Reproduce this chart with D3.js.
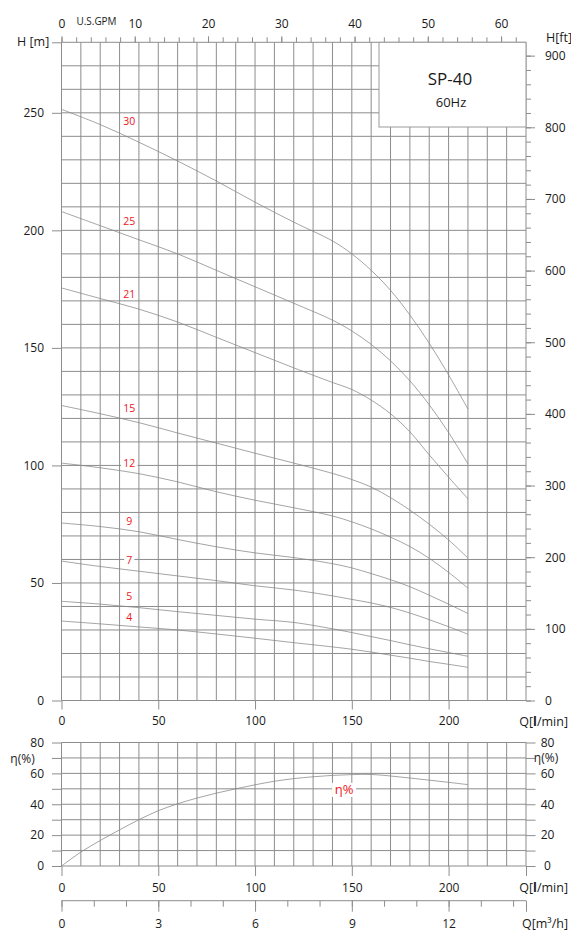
<!DOCTYPE html>
<html><head><meta charset="utf-8">
<script src="https://cdn.jsdelivr.net/npm/d3@7"></script>
<style>
body{margin:0;background:#fff}
svg{display:block}
text{font-family:"Open Sans",sans-serif;fill:#1a1a1a}
</style>
</head><body>
<svg id="c" width="571" height="931"></svg>
<script>
// ---------- data ----------
const flow = [0,20,40,60,80,100,120,140,150,160,170,180,190,200,210];           // l/min
const stages = ["30","25","21","15","12","9","7","5","4"];
const head30 = [251.5,245,237.5,229.5,221,212,203.5,195.5,190,183,174.5,164,152,138.5,124];
const head25 = [208,202,196,190,183,176,169,161.8,157.2,151.5,144.5,136,125.8,114,100.7];
const head21 = [175.5,171,166.5,161,154.5,148,141.5,135.3,132.3,127.8,122,114.3,104.5,95,85.8];
const head15 = [125.5,122,118.2,113.8,109.5,105.2,101,96.6,94,90.8,86.3,81,75,68.3,60.6];
const head12 = [101,99,96.5,93,88.8,85.2,82,78.5,76,73,69.5,65.5,60.5,54.5,47.8];
const head9  = [75.5,74,71.8,68.5,65.4,62.8,60.8,58.2,56.4,54,51.4,48.4,44.8,41,37];
const head7  = [59.3,57,55,53,51,48.8,47,44.5,43,41.5,39.6,37.2,34.4,31.4,28.2];
const head5  = [42.2,41,39.5,37.8,36.2,34.6,33.2,30.5,28.9,27.2,25.5,23.7,22,20.4,18.8];
const head4  = [33.8,32.6,31.3,30,28.3,26.5,24.6,22.8,21.8,20.6,19.3,18,16.6,15.4,14.1];
const labelHead = [246.5,203.8,172.9,124.5,101,76.2,59.6,44.5,35.6];
const labelFlow = 35;

const effFlow = [0,10,20,30,40,50,60,70,80,90,100,110,120,130,140,150,160,170,180,190,200,210];
const eff     = [0,9,16.5,23.4,30,35.8,40.3,44,47.2,50,52.6,54.9,56.6,57.8,58.7,59.2,59.3,58.3,57,55.6,54.2,52.7];
const effLabelFlow = 146, effLabelEff = 49.3;

const qTicks   = [0,50,100,150,200];
const hmTicks  = [0,50,100,150,200,250];
const hftTicks = [0,100,200,300,400,500,600,700,800,900];
const gpmTicks = [0,10,20,30,40,50,60];
const m3Ticks  = [0,3,6,9,12];
const effTicks = [0,20,40,60,80];

const model = "SP-40", freq = "60Hz";

// ---------- scales ----------
const svg = d3.select("#c");
const X0 = 61.5, X1 = 526;
const x = d3.scaleLinear().domain([0,240]).range([X0,X1]);
const yH = d3.scaleLinear().domain([0,280]).range([700.5,42.3]);
const yFt = d3.scaleLinear().domain([0,280/0.3048]).range([700.5,42.3]);
const yE = d3.scaleLinear().domain([0,80]).range([866,742.5]);
const xG = d3.scaleLinear().domain([0,240/3.78541]).range([X0,X1]);
const xM = d3.scaleLinear().domain([0,14.4]).range([X0,X1]);

const gridC = "#8d8d8d", curveC = "#858585", red = "#f0141c";

// ---------- grids ----------
const g = svg.append("g");
g.selectAll(".vg").data(d3.range(0,241,10)).join("line")
  .attr("x1",d=>x(d)).attr("x2",d=>x(d)).attr("y1",yH(280)).attr("y2",yH(0))
  .attr("stroke",gridC).attr("stroke-width",1);
g.selectAll(".hg").data(d3.range(0,281,10)).join("line")
  .attr("x1",X0).attr("x2",X1).attr("y1",d=>yH(d)).attr("y2",d=>yH(d))
  .attr("stroke",gridC).attr("stroke-width",1);
g.selectAll(".vge").data(d3.range(0,241,10)).join("line")
  .attr("x1",d=>x(d)).attr("x2",d=>x(d)).attr("y1",yE(80)).attr("y2",yE(0))
  .attr("stroke",gridC).attr("stroke-width",1);
g.selectAll(".hge").data(d3.range(0,81,10)).join("line")
  .attr("x1",X0).attr("x2",X1).attr("y1",d=>yE(d)).attr("y2",d=>yE(d))
  .attr("stroke",gridC).attr("stroke-width",1);

function styleAxis(sel, fs){
  sel.select(".domain").remove();
  sel.selectAll(".tick line").attr("stroke",gridC).attr("stroke-width",1);
  sel.selectAll(".tick text").attr("font-size",fs||12).attr("fill","#1a1a1a")
     .style("font-family","'Open Sans',sans-serif");
}

// left H[m]
svg.append("g").attr("transform",`translate(${X0},0)`)
  .call(d3.axisLeft(yH).tickValues(hmTicks.concat([280])).tickSize(9.5).tickPadding(8)
        .tickFormat(d=>d===280?"":d))
  .call(styleAxis);
// right H[ft]
svg.append("g").attr("transform",`translate(${X1},0)`)
  .call(d3.axisRight(yFt).tickValues(d3.range(0,901,20)).tickSize(5).tickFormat(""))
  .call(styleAxis);
svg.append("g").attr("transform",`translate(${X1},0)`)
  .call(d3.axisRight(yFt).tickValues(hftTicks).tickSize(9).tickPadding(10))
  .call(styleAxis);
// top GPM
svg.append("g").attr("transform",`translate(0,${yH(280)})`)
  .call(d3.axisTop(xG).tickValues(d3.range(0,63,2)).tickSize(5).tickFormat(""))
  .call(styleAxis);
svg.append("g").attr("transform",`translate(0,${yH(280)})`)
  .call(d3.axisTop(xG).tickValues(gpmTicks).tickSize(6).tickPadding(8))
  .call(styleAxis);
// bottom Q main
svg.append("g").attr("transform",`translate(0,${yH(0)})`)
  .call(d3.axisBottom(x).tickValues(qTicks).tickSize(9).tickPadding(7))
  .call(styleAxis);
// efficiency axes
svg.append("g").attr("transform",`translate(${X0},0)`)
  .call(d3.axisLeft(yE).tickValues(d3.range(0,81,10)).tickSize(9.5).tickPadding(8)
        .tickFormat(d=>effTicks.includes(d)?d:""))
  .call(styleAxis);
const er = svg.append("g").attr("transform",`translate(${X1},0)`)
  .call(d3.axisRight(yE).tickValues(d3.range(0,81,10)).tickSize(9.5).tickPadding(12)
        .tickFormat(d=>effTicks.includes(d)?d:""))
  .call(styleAxis);
er.selectAll(".tick text").attr("text-anchor","middle").attr("x",21.5);
svg.append("g").attr("transform",`translate(0,${yE(0)})`)
  .call(d3.axisBottom(x).tickValues(qTicks.concat([240])).tickSize(10).tickPadding(7)
        .tickFormat(d=>d===240?"":d))
  .call(styleAxis);
// m3/h axis
const m3y = 900.7;
svg.append("line").attr("x1",X0).attr("x2",X1).attr("y1",m3y).attr("y2",m3y)
  .attr("stroke",gridC).attr("stroke-width",1);
svg.append("g").attr("transform",`translate(0,${m3y})`)
  .call(d3.axisBottom(xM).tickValues(d3.range(0,15,1)).tickSize(6).tickFormat(""))
  .call(styleAxis);
svg.append("g").attr("transform",`translate(0,${m3y})`)
  .call(d3.axisBottom(xM).tickValues(m3Ticks.concat([14.4])).tickSize(11).tickPadding(8)
        .tickFormat(d=>d===14.4?"":d))
  .call(styleAxis);

// ---------- axis titles ----------
function txt(xp,yp,s,opt={}){
  const t = svg.append("text").attr("x",xp).attr("y",yp)
    .attr("font-size",opt.fs||12).attr("text-anchor",opt.anchor||"start");
  if(opt.fill) t.style("fill",opt.fill);
  t.text(s); return t;
}
txt(17,46,"H [m]",{fs:12.5});
txt(546,41.5,"H[ft]",{fs:12.5});
txt(96.5,24.5,"U.S.GPM",{fs:10.5,anchor:"middle"}).attr("textLength",40).attr("lengthAdjust","spacingAndGlyphs");
function qLabel(yp){
  const t = svg.append("text").attr("x",568).attr("y",yp).attr("font-size",12.5).attr("text-anchor","end");
  t.append("tspan").text("Q[");
  t.append("tspan").attr("font-weight","bold").text("l");
  t.append("tspan").text("/min]");
}
qLabel(725.5); qLabel(891.5);
txt(568,928,"Q[m³/h]",{fs:12.5,anchor:"end"});
txt(22.5,763,"η(%)",{fs:12,anchor:"middle"});
txt(546,762,"η(%)",{fs:12,anchor:"middle"});

// ---------- legend box ----------
svg.append("rect").attr("x",379).attr("y",yH(280)).attr("width",X1-379).attr("height",127-yH(280))
  .attr("fill","#fff").attr("stroke","#9a9a9a").attr("stroke-width",1);
txt(450,84.5,model,{fs:17,anchor:"middle"});
txt(451,107,freq,{fs:13,anchor:"middle"});

// ---------- curves ----------
const heads = [head30,head25,head21,head15,head12,head9,head7,head5,head4];
const line = d3.line().x(d=>x(d[0])).y(d=>yH(d[1])).curve(d3.curveCatmullRom.alpha(0.5));
svg.append("g").selectAll("path").data(heads).join("path")
  .attr("d",h=>line(flow.map((q,i)=>[q,h[i]])))
  .attr("fill","none").attr("stroke",curveC).attr("stroke-width",0.75);

const effLine = d3.line().x(d=>x(d[0])).y(d=>yE(d[1])).curve(d3.curveCatmullRom.alpha(0.5));
svg.append("path").attr("d",effLine(effFlow.map((q,i)=>[q,eff[i]])))
  .attr("fill","none").attr("stroke",curveC).attr("stroke-width",0.75);

// ---------- curve labels ----------
const lg = svg.append("g");
stages.forEach((s,i)=>{
  const cx = x(labelFlow), cy = yH(labelHead[i]);
  const w = s.length*6.2+4;
  lg.append("rect").attr("x",cx-w/2).attr("y",cy-5.5).attr("width",w).attr("height",11).attr("fill","#fff");
  lg.append("text").attr("x",cx).attr("y",cy+3.8).attr("text-anchor","middle")
    .attr("font-size",10.5).style("fill",red).text(s);
});
{
  const cx = x(effLabelFlow), cy = yE(effLabelEff);
  lg.append("rect").attr("x",cx-12).attr("y",cy-7).attr("width",24).attr("height",14).attr("fill","#fff");
  lg.append("text").attr("x",cx).attr("y",cy+4.5).attr("text-anchor","middle")
    .attr("font-size",13).style("fill",red).text("η%");
}
</script>
</body></html>
